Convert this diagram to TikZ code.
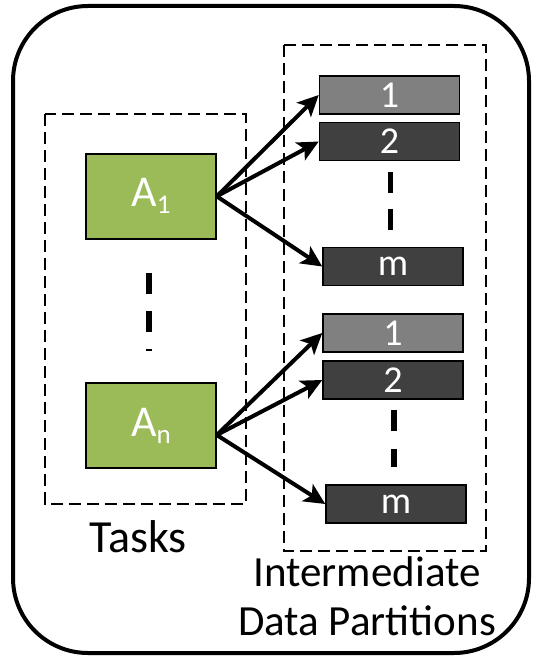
\documentclass[tikz,border=0pt]{standalone}
\usepackage{fontspec}
\setmainfont{Carlito}
\usetikzlibrary{arrows.meta}
\definecolor{taskgreen}{HTML}{9BBB59}
\definecolor{partlight}{HTML}{808080}
\definecolor{partdark}{HTML}{404040}
\newcommand\lowsub[1]{\raisebox{-7pt}{\fontsize{27}{27}\selectfont #1}}
\begin{document}
\begin{tikzpicture}[x=1pt,y=-1pt,
  task/.style={draw=black, line width=1.5pt, fill=taskgreen, text=white,
    minimum width=130pt, minimum height=85pt, inner sep=0pt,
    font=\fontsize{44}{46}\selectfont},
  part/.style={draw=black, line width=1.5pt, text=white,
    minimum width=140pt, minimum height=38pt, inner sep=0pt,
    font=\fontsize{38}{38}\selectfont},
  lightpart/.style={part, fill=partlight},
  darkpart/.style={part, fill=partdark},
  group/.style={draw=black, line width=2pt, dash pattern=on 12pt off 6pt},
  link/.style={line width=4pt, -{Stealth[length=21pt,width=20pt,inset=5pt]}},
  ell/.style={line width=5.5pt},
  lbl/.style={font=\fontsize{43}{48}\selectfont, inner sep=0pt, anchor=base}]
\useasboundingbox (0,0) rectangle (538,658);

% outer frame
\draw[line width=4pt, rounded corners=75pt] (13,6) rectangle (529,653);

% group boxes
\draw[group] (44.6,114.3) rectangle (245.7,504);
\draw[group] (284,45) rectangle (486,551);

% tasks
\node[task] (A1) at (151,196.3) {A\lowsub{1}};
\node[task] (An) at (151,425.5) {A\lowsub{n}};

% partitions, group 1
\node[lightpart] (p11) at (389.5,95) {\raisebox{-1pt}{1}};
\node[darkpart]  (p12) at (389.5,141.5) {\raisebox{-1pt}{2}};
\node[darkpart]  (p1m) at (393,266.5) {m};
% partitions, group 2
\node[lightpart] (p21) at (393,333) {\raisebox{-1pt}{1}};
\node[darkpart]  (p22) at (393,380) {\raisebox{-1pt}{2}};
\node[darkpart]  (p2m) at (396,504) {m};

% ellipsis dashes
\draw[ell, dash pattern=on 21pt off 17pt] (149,273) -- (149,351);
\draw[ell, dash pattern=on 21pt off 16pt] (390.5,172) -- (390.5,230);
\draw[ell, dash pattern=on 21pt off 18pt] (394,410) -- (394,467);

% arrows
\draw[link] (A1.east) -- (p11.west);
\draw[link] (A1.east) -- (p12.west);
\draw[link] (A1.east) -- (p1m.west);
\coordinate (anout) at ([yshift=-9.5pt]An.east);
\draw[link] (anout) -- (p21.west);
\draw[link] (anout) -- (p22.west);
\draw[link] (anout) -- (p2m.west);

% labels
\node[lbl, font=\fontsize{46}{48}\selectfont] (tasks) at (138,552) {Tasks};
\node[lbl] (inter) at (367,586) {Intermediate};
\node[lbl] (datap) at (367,635) {Data Partitions};
\end{tikzpicture}
\end{document}
